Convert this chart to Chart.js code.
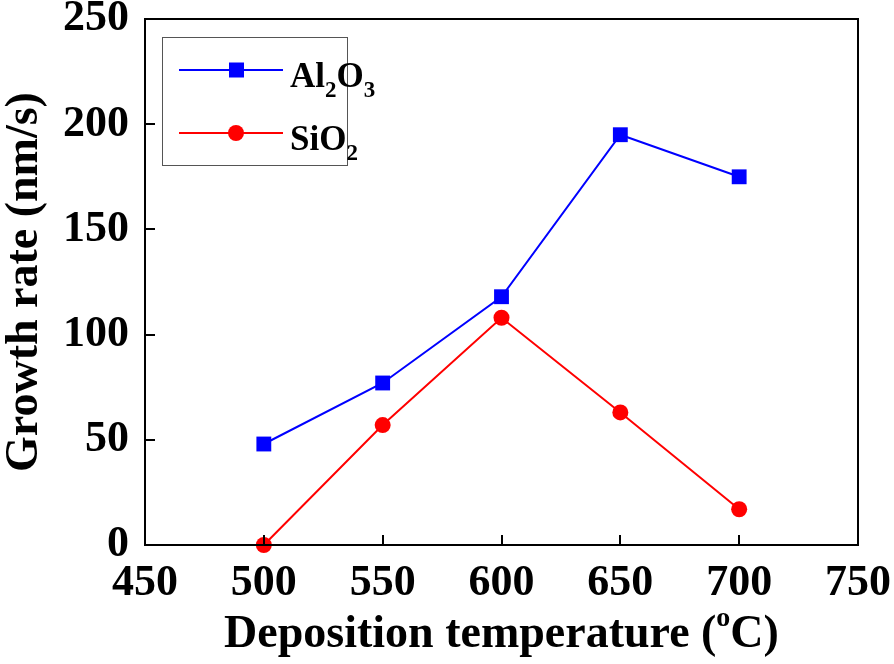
<!DOCTYPE html>
<html>
<head>
<meta charset="utf-8">
<script src="https://cdn.jsdelivr.net/npm/chart.js@4.4.1/dist/chart.umd.min.js"></script>
<style>
  html, body { margin: 0; padding: 0; background: #ffffff; }
  #wrap { width: 894px; height: 664px; position: relative; }
</style>
</head>
<body>
<div id="wrap"><canvas id="growthChart"></canvas></div>
<script>
const temperatures = [500, 550, 600, 650, 700];
const al2o3Rate = [48, 77, 118, 195, 175];
const sio2Rate = [0, 57, 108, 63, 17];
const xTicks = [450, 500, 550, 600, 650, 700, 750];
const yTicks = [0, 50, 100, 150, 200, 250];

const serif = '"Liberation Serif", "Times New Roman", serif';

function toPoints(xs, ys) {
    return xs.map((x, i) => ({ x: x, y: ys[i] }));
}

// frame, inward ticks, axis titles and legend
const decorations = {
    id: 'decorations',
    afterDraw(chart) {
        const ctx = chart.ctx;
        const area = chart.chartArea;
        const xs = chart.scales.x;
        const ys = chart.scales.y;
        ctx.save();
        ctx.strokeStyle = '#000000';
        ctx.lineWidth = 2;
        ctx.strokeRect(area.left, area.top, area.right - area.left, area.bottom - area.top);

        // inward tick marks
        ctx.beginPath();
        xTicks.slice(1, -1).forEach(v => {
            const px = Math.round(xs.getPixelForValue(v));
            ctx.moveTo(px, area.bottom);
            ctx.lineTo(px, area.bottom - 10);
        });
        yTicks.slice(1, -1).forEach(v => {
            const py = Math.round(ys.getPixelForValue(v));
            ctx.moveTo(area.left, py);
            ctx.lineTo(area.left + 10, py);
        });
        ctx.stroke();

        // axis titles
        ctx.fillStyle = '#000000';
        ctx.textBaseline = 'alphabetic';
        const cx = (area.left + area.right) / 2;
        const big = 'bold 46px ' + serif;
        const small = 'bold 28px ' + serif;
        const t1 = 'Deposition temperature (';
        const t2 = 'C)';
        ctx.font = small;
        const wo = ctx.measureText('o').width;
        ctx.font = big;
        const w1 = ctx.measureText(t1).width;
        const w2 = ctx.measureText(t2).width;
        const x0 = cx - (w1 + wo + w2) / 2;
        const yb = 647;
        ctx.textAlign = 'left';
        ctx.fillText(t1, x0, yb);
        ctx.font = small;
        ctx.fillText('o', x0 + w1, yb - 21);
        ctx.font = big;
        ctx.fillText(t2, x0 + w1 + wo, yb);

        ctx.save();
        ctx.translate(37, (area.top + area.bottom) / 2);
        ctx.rotate(-Math.PI / 2);
        ctx.textAlign = 'center';
        ctx.font = big;
        ctx.fillText('Growth rate (nm/s)', 0, 0);
        ctx.restore();

        // legend
        ctx.strokeStyle = '#555555';
        ctx.lineWidth = 1;
        ctx.strokeRect(162.5, 37.5, 185, 128);
        const items = [
            { color: '#0000ff', shape: 'rect', parts: [['Al', 0], ['2', 1], ['O', 0], ['3', 1]], y: 70 },
            { color: '#ff0000', shape: 'circle', parts: [['SiO', 0], ['2', 1]], y: 133 }
        ];
        items.forEach(it => {
            ctx.strokeStyle = it.color;
            ctx.fillStyle = it.color;
            ctx.lineWidth = 2;
            ctx.beginPath();
            ctx.moveTo(179, it.y);
            ctx.lineTo(283, it.y);
            ctx.stroke();
            if (it.shape === 'rect') {
                ctx.fillRect(229, it.y - 7.5, 15, 15);
            } else {
                ctx.beginPath();
                ctx.arc(236, it.y, 8, 0, Math.PI * 2);
                ctx.fill();
            }
            ctx.fillStyle = '#000000';
            let tx = 290;
            it.parts.forEach(p => {
                ctx.font = p[1] ? 'bold 23px ' + serif : 'bold 35px ' + serif;
                ctx.fillText(p[0], tx, it.y + 17 + (p[1] ? 10 : 0));
                tx += ctx.measureText(p[0]).width;
            });
        });
        ctx.restore();
    }
};

new Chart(document.getElementById('growthChart'), {
    type: 'line',
    data: {
        datasets: [{
            label: 'Al2O3',
            data: toPoints(temperatures, al2o3Rate),
            borderColor: '#0000ff',
            backgroundColor: '#0000ff',
            borderWidth: 2,
            pointStyle: 'rect',
            pointRadius: 10.5,
            pointBorderWidth: 0,
            tension: 0
        }, {
            label: 'SiO2',
            data: toPoints(temperatures, sio2Rate),
            borderColor: '#ff0000',
            backgroundColor: '#ff0000',
            borderWidth: 2,
            pointStyle: 'circle',
            pointRadius: 8,
            pointBorderWidth: 0,
            tension: 0
        }]
    },
    options: {
        responsive: true,
        maintainAspectRatio: false,
        animation: false,
        clip: false,
        layout: {
            padding: { left: 0, top: 19, right: 36, bottom: 0 }
        },
        plugins: {
            legend: { display: false },
            tooltip: { enabled: false }
        },
        scales: {
            x: {
                type: 'linear',
                min: 450,
                max: 750,
                afterBuildTicks: s => { s.ticks = xTicks.map(v => ({ value: v })); },
                afterFit: s => { s.height = 119; s.paddingLeft = 0; s.paddingRight = 0; },
                grid: { display: false },
                border: { display: false },
                ticks: {
                    color: '#000000',
                    padding: 4,
                    maxRotation: 0,
                    font: { family: serif, size: 44, weight: 'bold' }
                }
            },
            y: {
                min: 0,
                max: 250,
                afterBuildTicks: s => { s.ticks = yTicks.map(v => ({ value: v })); },
                afterFit: s => { s.width = 145; s.paddingTop = 0; s.paddingBottom = 0; },
                grid: { display: false },
                border: { display: false },
                ticks: {
                    color: '#000000',
                    padding: 8,
                    font: { family: serif, size: 44, weight: 'bold' }
                }
            }
        }
    },
    plugins: [decorations]
});
</script>
</body>
</html>
